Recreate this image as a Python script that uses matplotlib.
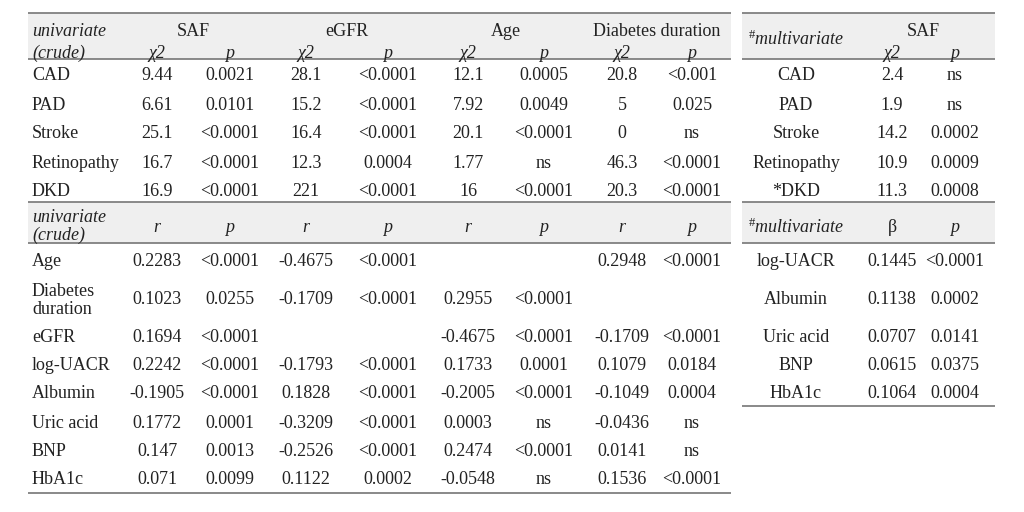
import matplotlib
matplotlib.use("Agg")
import matplotlib.pyplot as plt

plt.rcParams['font.family'] = ['Liberation Serif', 'DejaVu Serif']
plt.rcParams['mathtext.fontset'] = 'custom'
plt.rcParams['mathtext.rm'] = 'Liberation Serif'
plt.rcParams['mathtext.it'] = 'Liberation Serif:italic'

# ---- data ----
cat_rows = ["CAD", "PAD", "Stroke", "Retinopathy", "DKD"]
saf_chi2 = ["9.44", "6.61", "25.1", "16.7", "16.9"]
saf_p = ["0.0021", "0.0101", "<0.0001", "<0.0001", "<0.0001"]
egfr_chi2 = ["28.1", "15.2", "16.4", "12.3", "221"]
egfr_p = ["<0.0001", "<0.0001", "<0.0001", "0.0004", "<0.0001"]
age_chi2 = ["12.1", "7.92", "20.1", "1.77", "16"]
age_p = ["0.0005", "0.0049", "<0.0001", "ns", "<0.0001"]
dd_chi2 = ["20.8", "5", "0", "46.3", "20.3"]
dd_p = ["<0.001", "0.025", "ns", "<0.0001", "<0.0001"]

cont_rows = ["Age", "Diabetes\nduration", "eGFR", "log-UACR", "Albumin",
             "Uric acid", "BNP", "HbA1c"]
saf_r = ["0.2283", "0.1023", "0.1694", "0.2242", "-0.1905", "0.1772", "0.147", "0.071"]
saf_rp = ["<0.0001", "0.0255", "<0.0001", "<0.0001", "<0.0001", "0.0001", "0.0013", "0.0099"]
egfr_r = ["-0.4675", "-0.1709", "", "-0.1793", "0.1828", "-0.3209", "-0.2526", "0.1122"]
egfr_rp = ["<0.0001", "<0.0001", "", "<0.0001", "<0.0001", "<0.0001", "<0.0001", "0.0002"]
age_r = ["", "0.2955", "-0.4675", "0.1733", "-0.2005", "0.0003", "0.2474", "-0.0548"]
age_rp = ["", "<0.0001", "<0.0001", "0.0001", "<0.0001", "ns", "<0.0001", "ns"]
dd_r = ["0.2948", "", "-0.1709", "0.1079", "-0.1049", "-0.0436", "0.0141", "0.1536"]
dd_rp = ["<0.0001", "", "<0.0001", "0.0184", "0.0004", "ns", "ns", "<0.0001"]

group_names = ["SAF", "eGFR", "Age", "Diabetes duration"]

multi_cat_rows = ["CAD", "PAD", "Stroke", "Retinopathy", "*DKD"]
multi_chi2 = ["2.4", "1.9", "14.2", "10.9", "11.3"]
multi_p = ["ns", "ns", "0.0002", "0.0009", "0.0008"]
multi_cont_rows = ["log-UACR", "Albumin", "Uric acid", "BNP", "HbA1c"]
multi_beta = ["0.1445", "0.1138", "0.0707", "0.0615", "0.1064"]
multi_bp = ["<0.0001", "0.0002", "0.0141", "0.0375", "0.0004"]

# ---- layout (pixel space) ----
FS = 13
TXT = "#222222"
BAND = "#efefef"
LINE = "#808080"
col_x = [157, 230, 306, 388, 468, 544, 622, 692]
label_x = 32
L0, L1 = 28, 731
R0, R1 = 742, 995
rx_label, rx_a, rx_b = 796, 892, 955
cat_y = [74, 103, 132, 161, 189]
cont_y = [259, 298, 335, 364, 392, 421, 449, 478]

fig = plt.figure(figsize=(10.24, 5.12), dpi=100)
ax = fig.add_axes([0, 0, 1, 1])
ax.set_xlim(0, 1024)
ax.set_ylim(512, 0)
ax.axis("off")


def t(x, y, s, ha="center", **kw):
    ax.text(x, y, s, ha=ha, va="center_baseline", fontsize=FS, color=TXT, **kw)


def hline(x0, x1, y):
    ax.plot([x0, x1], [y, y], color=LINE, lw=1.3, solid_capstyle="butt")


# header bands
for (a, b) in [(L0, L1), (R0, R1)]:
    ax.fill_between([a, b], 13, 59, color=BAND, lw=0)
    ax.fill_between([a, b], 202, 243, color=BAND, lw=0)
    hline(a, b, 13)
    hline(a, b, 59)
    hline(a, b, 202)
    hline(a, b, 243)
hline(L0, L1, 493)
hline(R0, R1, 406)

# left table, first header
t(label_x, 29, "univariate", ha="left", style="italic")
t(label_x, 51, "(crude)", ha="left", style="italic")
for g, name in enumerate(group_names):
    t((col_x[2 * g] + col_x[2 * g + 1]) / 2, 29, name)
    t(col_x[2 * g], 51, "χ2", style="italic")
    t(col_x[2 * g + 1], 51, "p", style="italic")

# left table, categorical rows
cat_cols = [saf_chi2, saf_p, egfr_chi2, egfr_p, age_chi2, age_p, dd_chi2, dd_p]
for i, y in enumerate(cat_y):
    t(label_x, y, cat_rows[i], ha="left")
    for c, vals in enumerate(cat_cols):
        t(col_x[c], y, vals[i])

# left table, second header
t(label_x, 216, "univariate", ha="left", style="italic")
t(label_x, 233, "(crude)", ha="left", style="italic")
for g in range(4):
    t(col_x[2 * g], 225, "r", style="italic")
    t(col_x[2 * g + 1], 225, "p", style="italic")

# left table, continuous rows
cont_cols = [saf_r, saf_rp, egfr_r, egfr_rp, age_r, age_rp, dd_r, dd_rp]
for i, y in enumerate(cont_y):
    name = cont_rows[i]
    if "\n" in name:
        top, bot = name.split("\n")
        t(label_x, y - 9, top, ha="left")
        t(label_x, y + 9, bot, ha="left")
    else:
        t(label_x, y, name, ha="left")
    for c, vals in enumerate(cont_cols):
        t(col_x[c], y, vals[i])

# right table
t(rx_label, 37, r"$^{\#}$" + "multivariate", style="italic")
t((rx_a + rx_b) / 2, 29, "SAF")
t(rx_a, 51, "χ2", style="italic")
t(rx_b, 51, "p", style="italic")
for i, y in enumerate(cat_y):
    t(rx_label, y, multi_cat_rows[i])
    t(rx_a, y, multi_chi2[i])
    t(rx_b, y, multi_p[i])

t(rx_label, 225, r"$^{\#}$" + "multivariate", style="italic")
t(rx_a, 225, "β")
t(rx_b, 225, "p", style="italic")
for i, name in enumerate(multi_cont_rows):
    y = cont_y[i]
    t(rx_label, y, name)
    t(rx_a, y, multi_beta[i])
    t(rx_b, y, multi_bp[i])

fig.savefig("out.png", dpi=100, facecolor="white")
